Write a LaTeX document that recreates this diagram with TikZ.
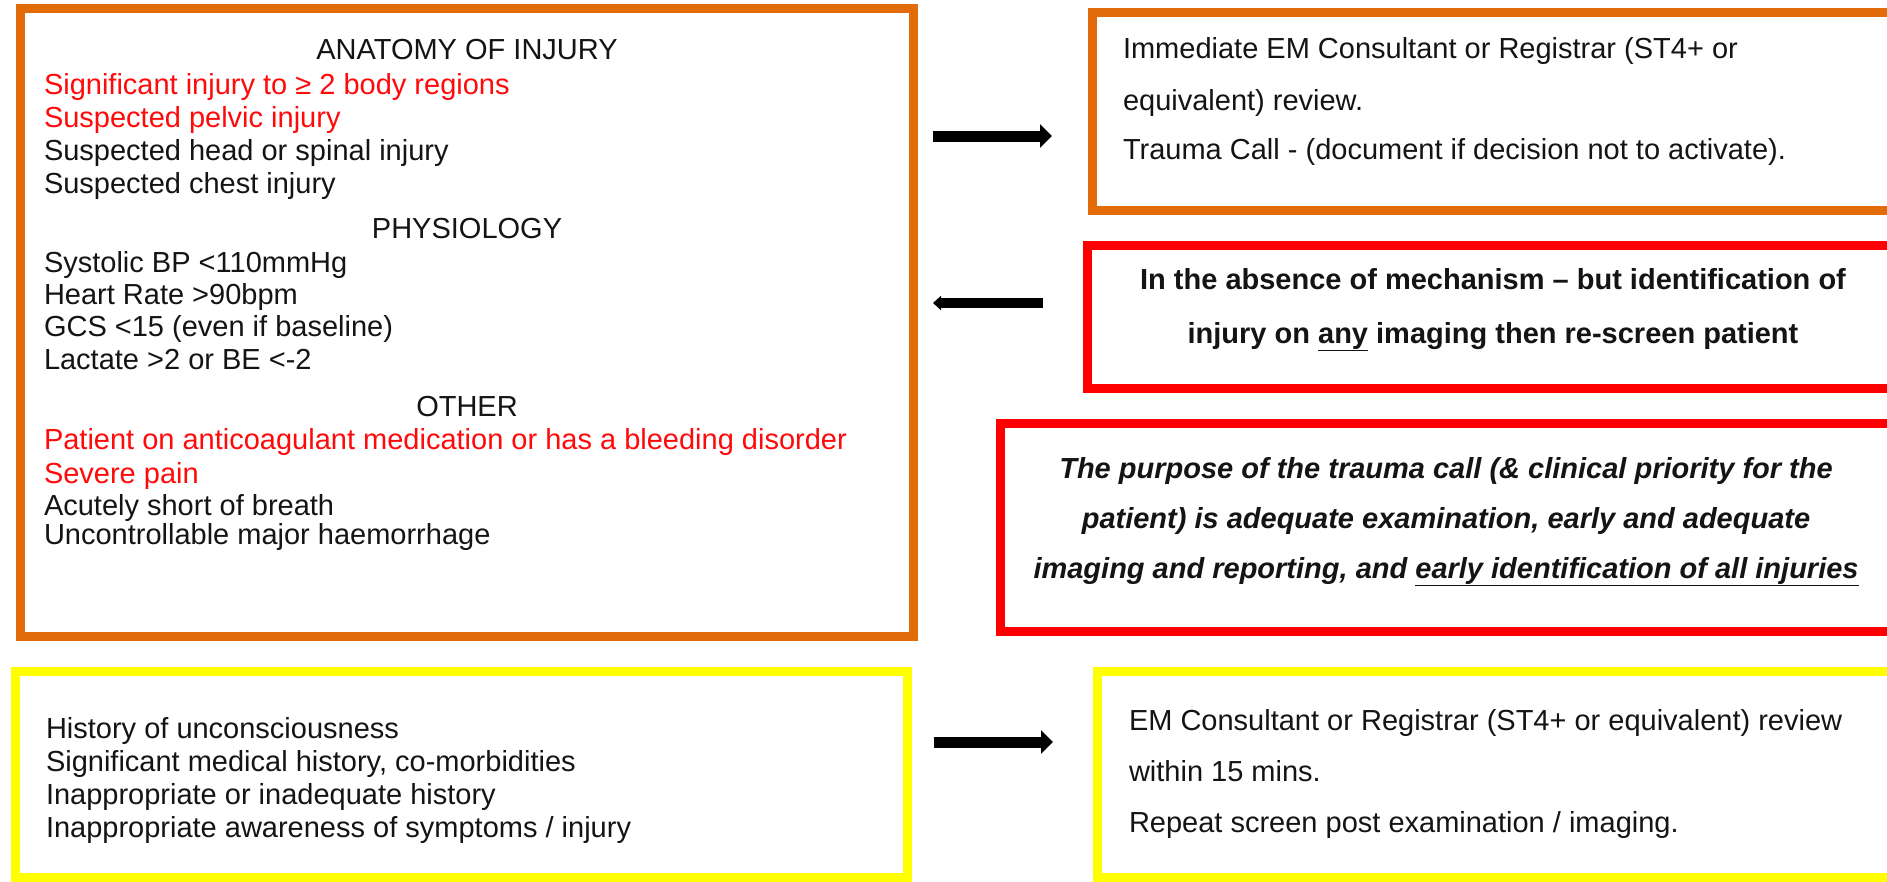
\documentclass[tikz,border=0pt]{standalone}
\usepackage{fontspec}
\setmainfont{Liberation Sans}
\usetikzlibrary{arrows.meta}
\definecolor{boxorange}{HTML}{E36C0A}
\definecolor{boxred}{HTML}{FF0000}
\definecolor{boxyellow}{HTML}{FFFF00}
\definecolor{txtred}{HTML}{FF0A0A}
\definecolor{txtblack}{HTML}{141414}
\begin{document}
\begin{tikzpicture}[x=1pt,y=-1pt,
  frame/.style={draw=#1, line width=9pt, anchor=north west, inner sep=0pt, outer sep=0pt},
  txt/.style={anchor=base west, inner sep=0pt, outer sep=0pt, text=txtblack, font=\fontsize{29}{33}\selectfont},
  rtxt/.style={txt, text=txtred},
  ctxt/.style={txt, anchor=base},
  fatarrow/.style={line width=11pt, draw=black, -{Triangle[length=12pt,width=23pt]}},
  thinarrow/.style={line width=10pt, draw=black, -{Triangle[length=8pt,width=14pt]}}
]
\useasboundingbox (0,0) rectangle (1887,881);
\clip (0,0) rectangle (1887,881);
\fill[white] (0,0) rectangle (1887,881);

% boxes
\node[frame=boxorange, minimum width=893pt, minimum height=628pt] (A) at (20,8) {};
\node[frame=boxorange, minimum width=850pt, minimum height=198pt] (B) at (1092,12) {};
\node[frame=boxred, minimum width=850pt, minimum height=143pt] (C) at (1087,245) {};
\node[frame=boxred, minimum width=940pt, minimum height=208pt] (D) at (1000,423) {};
\node[frame=boxyellow, minimum width=892pt, minimum height=206pt] (E) at (15,671) {};
\node[frame=boxyellow, minimum width=850pt, minimum height=206pt] (F) at (1097,671) {};

% box A text
\node[ctxt] (a0) at (467,59) {ANATOMY OF INJURY};
\node[rtxt] (a1) at (44,94) {Significant injury to ≥ 2 body regions};
\node[rtxt] (a2) at (44,127) {Suspected pelvic injury};
\node[txt] (a3) at (44,160) {Suspected head or spinal injury};
\node[txt] (a4) at (44,193) {Suspected chest injury};
\node[ctxt] (a5) at (467,238) {PHYSIOLOGY};
\node[txt] (a6) at (44,272) {Systolic BP <110mmHg};
\node[txt] (a7) at (44,304) {Heart Rate >90bpm};
\node[txt] (a8) at (44,336) {GCS <15 (even if baseline)};
\node[txt] (a9) at (44,369) {Lactate >2 or BE <-2};
\node[ctxt] (a10) at (467,416) {OTHER};
\node[rtxt] (a11) at (44,449) {Patient on anticoagulant medication or has a bleeding disorder};
\node[rtxt] (a12) at (44,483) {Severe pain};
\node[txt] (a13) at (44,515) {Acutely short of breath};
\node[txt] (a14) at (44,544) {Uncontrollable major haemorrhage};

% box B text
\node[txt] (b1) at (1123,58) {Immediate EM Consultant or Registrar (ST4+ or};
\node[txt] (b2) at (1123,110) {equivalent) review.};
\node[txt] (b3) at (1123,159) {Trauma Call - (document if decision not to activate).};

% box C text
\node[ctxt, font=\fontsize{29}{33}\selectfont\bfseries] (c1) at (1493,289) {In the absence of mechanism – but identification of};
\node[ctxt, font=\fontsize{29}{33}\selectfont\bfseries] (c2) at (1493,343) {injury on \underline{any} imaging then re-screen patient};

% box D text
\node[ctxt, font=\fontsize{29}{33}\selectfont\bfseries\itshape] (d1) at (1446,478) {The purpose of the trauma call (\& clinical priority for the};
\node[ctxt, font=\fontsize{29}{33}\selectfont\bfseries\itshape] (d2) at (1446,528) {patient) is adequate examination, early and adequate};
\node[ctxt, font=\fontsize{29}{33}\selectfont\bfseries\itshape] (d3) at (1446,578) {imaging and reporting, and \underline{early identification of all injuries}};

% box E text
\node[txt] (e1) at (46,738) {History of unconsciousness};
\node[txt] (e2) at (46,771) {Significant medical history, co-morbidities};
\node[txt] (e3) at (46,804) {Inappropriate or inadequate history};
\node[txt] (e4) at (46,837) {Inappropriate awareness of symptoms / injury};

% box F text
\node[txt] (f1) at (1129,730) {EM Consultant or Registrar (ST4+ or equivalent) review};
\node[txt] (f2) at (1129,781) {within 15 mins.};
\node[txt] (f3) at (1129,832) {Repeat screen post examination / imaging.};

% arrows
\coordinate (p1s) at (933,136);
\coordinate (p1e) at (1052,136);
\coordinate (p2s) at (1043,303);
\coordinate (p2e) at (933,303);
\coordinate (p3s) at (934,742);
\coordinate (p3e) at (1053,742);
\draw[fatarrow] (p1s) -- (p1e);
\draw[thinarrow] (p2s) -- (p2e);
\draw[fatarrow] (p3s) -- (p3e);
\end{tikzpicture}
\end{document}
